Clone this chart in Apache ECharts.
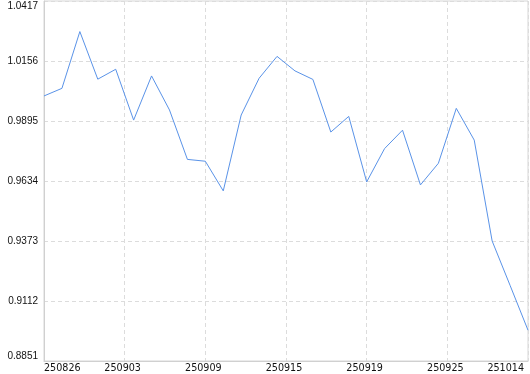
<!DOCTYPE html>
<html>
<head>
<meta charset="utf-8">
<style>
html,body{margin:0;padding:0;background:#fff;}
#chart{width:530px;height:374px;}
</style>
<script src="https://cdn.jsdelivr.net/npm/echarts@6/dist/echarts.min.js"></script>
</head>
<body>
<div id="chart"></div>
<script>
var values = [1.0004, 1.0037, 1.0284, 1.0077, 1.0120, 0.9899, 1.0091, 0.9943, 0.9728, 0.9720,
              0.9591, 0.9921, 1.0081, 1.0176, 1.0113, 1.0076, 0.9847, 0.9915, 0.9630, 0.9775,
              0.9855, 0.9617, 0.9711, 0.9950, 0.9812, 0.9373, 0.9180, 0.8985];
var xTickLabels = ['250826', '250903', '250909', '250915', '250919', '250925', '251014'];
var yTickLabels = ['0.8851', '0.9112', '0.9373', '0.9634', '0.9895', '1.0156', '1.0417'];
var yMin = 0.8851, yMax = 1.0417;

var seriesData = values.map(function (v, i) { return [i, v]; });
var xMax = values.length - 1;
var xStep = xMax / (xTickLabels.length - 1);

var chart = echarts.init(document.getElementById('chart'), null, {renderer: 'canvas'});
chart.setOption({
  animation: false,
  backgroundColor: '#fff',
  grid: {left: 44, right: 2, top: 1, bottom: 13, show: true, borderColor: '#d6d6d6', borderWidth: 1,
         containLabel: false, outerBoundsMode: 'none'},
  xAxis: {
    type: 'value', min: 0, max: xMax, interval: xStep,
    axisLine: {show: true, lineStyle: {color: '#d0d0d0', width: 1}},
    axisTick: {show: false},
    splitLine: {show: true, lineStyle: {color: '#dcdcdc', type: [4, 3], width: 1}},
    axisLabel: {
      margin: 2, color: '#111', fontFamily: 'DejaVu Sans', fontSize: 9.6,
      padding: [0, 4, 0, 0],
      alignMinLabel: 'left', alignMaxLabel: 'right',
      formatter: function (v) { return xTickLabels[Math.round(v / xStep)]; }
    }
  },
  yAxis: [
    {
      type: 'value', min: yMin, max: yMax, position: 'right', show: false,
      splitLine: {show: false}
    },
    {
      type: 'value', min: 0, max: yTickLabels.length - 1, interval: 1, position: 'left',
      axisLine: {show: true, lineStyle: {color: '#d0d0d0', width: 1}},
      axisTick: {show: false},
      splitLine: {show: true, lineStyle: {color: '#dcdcdc', type: [4, 3], width: 1}},
      axisLabel: {
        margin: 6, color: '#111', fontFamily: 'Liberation Sans', fontSize: 10,
        verticalAlignMinLabel: 'bottom', verticalAlignMaxLabel: 'top',
        formatter: function (v) { return yTickLabels[Math.round(v)]; }
      }
    }
  ],
  series: [{
    type: 'line', yAxisIndex: 0, data: seriesData, showSymbol: false, symbol: 'none',
    lineStyle: {color: '#5a93e8', width: 1}, itemStyle: {color: '#5a93e8'}
  }]
});
</script>
</body>
</html>
